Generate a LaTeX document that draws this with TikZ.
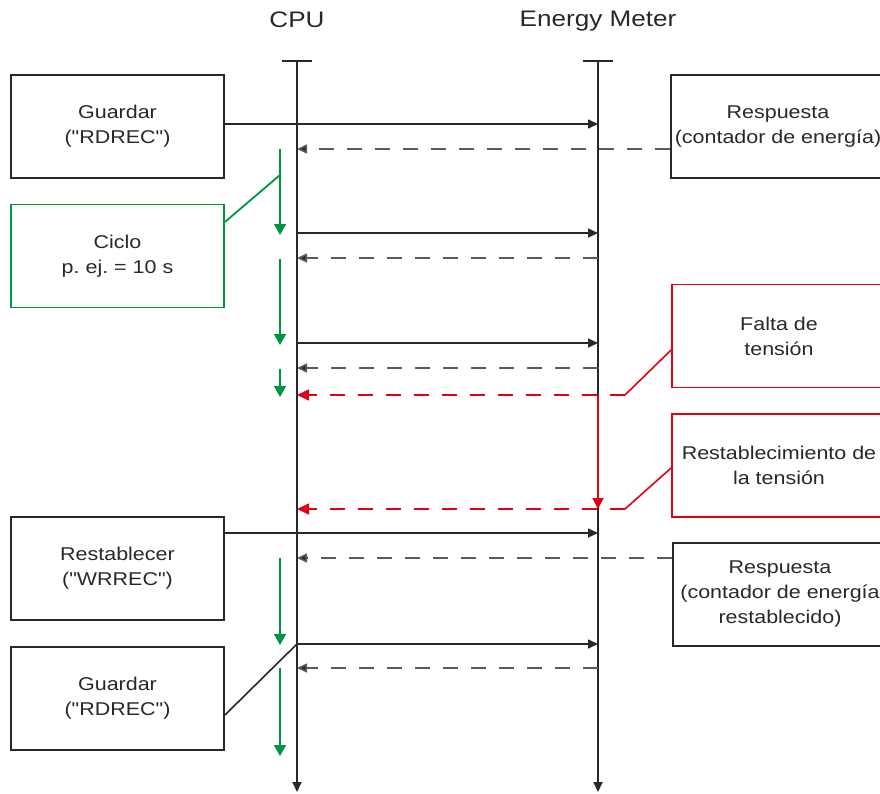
\documentclass[tikz,border=0pt]{standalone}
\usepackage{fontspec}
\setmainfont{Liberation Sans}[FakeStretch=1.16, Ligatures=TeXOff]
\usetikzlibrary{arrows.meta}
\definecolor{grn}{RGB}{0,150,64}
\definecolor{rd}{RGB}{228,0,20}
\definecolor{dk}{RGB}{40,40,40}
\definecolor{gr}{RGB}{90,90,90}
\begin{document}
\begin{tikzpicture}[x=1pt,y=-1pt,
  box/.style={draw=dk, line width=1.8pt, minimum width=213pt, minimum height=103pt,
    inner sep=0pt, align=center, font=\fontsize{18.5}{25}\selectfont, text=dk},
  gbox/.style={box, draw=grn},
  rbox/.style={box, draw=rd},
  ttl/.style={font=\fontsize{22.5}{26}\selectfont, text=dk, inner sep=0pt},
  life/.style={draw=dk, line width=1.8pt},
  lifeend/.style={life, -{Triangle[length=10pt,width=9pt]}},
  msg/.style={draw=dk, line width=1.6pt, -{Triangle[length=10pt,width=9pt]}},
  rsp/.style={draw=gr, line width=1.6pt, dash pattern=on 15pt off 13pt, -{Triangle[length=10pt,width=9pt,fill=dk]}},
  rdash/.style={draw=rd, line width=1.6pt, dash pattern=on 15pt off 13pt, -{Triangle[length=12pt,width=11pt]}},
  rline/.style={draw=rd, line width=1.6pt},
  rvert/.style={draw=rd, line width=1.8pt, -{Triangle[length=11pt,width=11pt]}},
  gline/.style={draw=grn, line width=1.8pt},
  garr/.style={draw=grn, line width=1.8pt, -{Triangle[length=11pt,width=12pt]}},
  kline/.style={draw=dk, line width=1.6pt}
]
\useasboundingbox (0,0) rectangle (880,793);
\clip (0,0) rectangle (880,793);

% titles
\node[ttl] (cpu) at (297,20) {CPU};
\node[ttl] (emt) at (598,21) {Energy Meter};

% lifelines
\coordinate (cpuT) at (297,61);
\coordinate (cpuB) at (297,792);
\coordinate (emT) at (598,61);
\coordinate (emB) at (598,792);
\draw[lifeend] (cpuT) -- (cpuB);
\draw[lifeend] (emT) -- (emB);
\draw[life] ([xshift=-15pt]cpuT) -- ([xshift=15pt]cpuT);
\draw[life] ([xshift=-15pt]emT) -- ([xshift=15pt]emT);

% boxes
\node[box] (g1) at (117.5,126.5) {Guardar\\("RDREC")};
\node[box, minimum width=214pt] (r1) at (778,126.5) {Respuesta\\(contador de energía)};
\node[gbox] (cyc) at (117.5,256) {Ciclo\\p.\ ej.\ = 10 s};
\node[rbox, minimum width=214pt] (fal) at (779,336) {Falta de\\tensión};
\node[rbox, minimum width=214pt] (res) at (779,465.5) {Restablecimiento de\\la tensión};
\node[box] (wr) at (117.5,568.5) {Restablecer\\("WRREC")};
\node[box, minimum width=214pt] (r2) at (780,594.5) {Respuesta\\(contador de energía\\restablecido)};
\node[box] (g2) at (117.5,698.5) {Guardar\\("RDREC")};

% message coordinates
\coordinate (e1) at (598,124);
\coordinate (c1) at (297,149);
\coordinate (c2a) at (297,233);
\coordinate (e2a) at (598,233);
\coordinate (e2b) at (598,258);
\coordinate (c2b) at (297,258);
\coordinate (c3a) at (297,343);
\coordinate (e3a) at (598,343);
\coordinate (e3b) at (598,368);
\coordinate (c3b) at (297,368);
\coordinate (k1) at (625,395);
\coordinate (c4) at (297,395);
\coordinate (e4) at (598,395);
\coordinate (k2) at (625,509);
\coordinate (c5) at (297,509);
\coordinate (e5) at (598,509);
\coordinate (e6) at (598,533);
\coordinate (c6) at (297,558);
\coordinate (c7a) at (297,644);
\coordinate (e7a) at (598,644);
\coordinate (e7b) at (598,668);
\coordinate (c7b) at (297,668);

% messages
\draw[msg] (g1.east |- e1) -- (e1);
\draw[rsp] (r1.west |- c1) -- (c1);
\draw[msg] (c2a) -- (e2a);
\draw[rsp] (e2b) -- (c2b);
\draw[msg] (c3a) -- (e3a);
\draw[rsp] (e3b) -- (c3b);
\draw[rdash] (k1) -- (c4);
\draw[rline] ([yshift=-14pt]fal.west) -- (k1);
\draw[rvert] (e4) -- (e5);
\draw[rdash] (k2) -- (c5);
\draw[rline] ([yshift=-2.5pt]res.west) -- (k2);
\draw[msg] (wr.east |- e6) -- (e6);
\draw[rsp] (r2.west |- c6) -- (c6);
\draw[msg] (c7a) -- (e7a);
\draw[kline] ([yshift=-16.5pt]g2.east) -- (c7a);
\draw[rsp] (e7b) -- (c7b);

% cycle arrows
\coordinate (ga1) at (280,149);
\coordinate (gb1) at (280,235);
\coordinate (gk) at (280,175);
\coordinate (ga2) at (280,259);
\coordinate (gb2) at (280,345);
\coordinate (ga3) at (280,369);
\coordinate (gb3) at (280,397);
\coordinate (ga4) at (280,558);
\coordinate (gb4) at (280,645);
\coordinate (ga5) at (280,668);
\coordinate (gb5) at (280,756);
\draw[garr] (ga1) -- (gb1);
\draw[garr] (ga2) -- (gb2);
\draw[garr] (ga3) -- (gb3);
\draw[garr] (ga4) -- (gb4);
\draw[garr] (ga5) -- (gb5);
\draw[gline] ([yshift=34pt]cyc.east) -- (gk);
\end{tikzpicture}
\end{document}
